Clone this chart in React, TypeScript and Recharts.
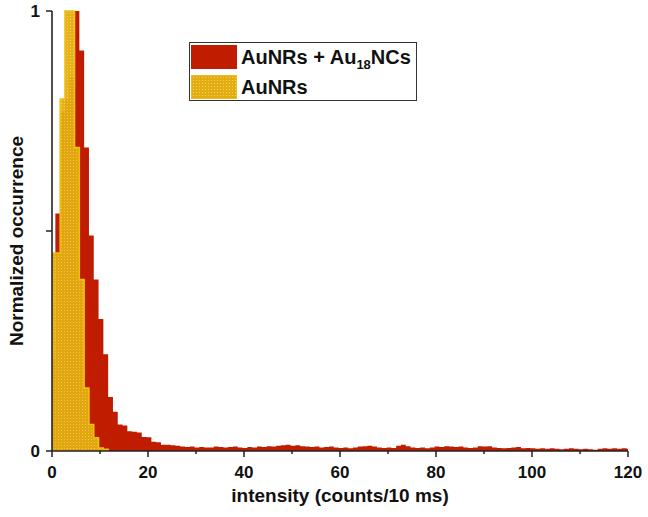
import { ComposedChart, Area, XAxis, YAxis, Legend } from "recharts";

// histogram bins: width 1 count, first bin starts a bit left of 0
const binStart = -0.3;
const binWidth = 1;

// AuNRs + Au18NCs, normalized occurrence per bin (0..120)
const combinedCounts = [
  0.21, 0.54, 0.77, 0.8, 0.85, 1.0, 0.91, 0.69, 0.49, 0.39,
  0.3, 0.22, 0.123, 0.089, 0.06, 0.058, 0.045, 0.044, 0.042, 0.032,
  0.031, 0.021, 0.02, 0.014, 0.014, 0.013, 0.012, 0.01, 0.009, 0.01,
  0.008, 0.009, 0.008, 0.008, 0.01, 0.009, 0.008, 0.009, 0.01, 0.008,
  0.007, 0.009, 0.008, 0.01, 0.009, 0.011, 0.01, 0.012, 0.013, 0.014,
  0.012, 0.013, 0.011, 0.01, 0.009, 0.01, 0.008, 0.009, 0.01, 0.008,
  0.007, 0.008, 0.006, 0.008, 0.01, 0.011, 0.012, 0.01, 0.008, 0.007,
  0.008, 0.007, 0.012, 0.014, 0.011, 0.008, 0.007, 0.008, 0.006, 0.008,
  0.01, 0.009, 0.011, 0.01, 0.009, 0.01, 0.008, 0.007, 0.008, 0.011,
  0.01, 0.011, 0.008, 0.007, 0.006, 0.007, 0.008, 0.009, 0.006, 0.007,
  0.006, 0.005, 0.006, 0.005, 0.006, 0.005, 0.004, 0.005, 0.006, 0.005,
  0.004, 0.005, 0.004, 0.003, 0.005, 0.006, 0.005, 0.006, 0.005, 0.006,
  0.005,
];

// AuNRs only
const aunrCounts = [0.45, 0.45, 0.8, 1.0, 1.0, 0.69, 0.39, 0.143, 0.06, 0.03, 0.007, 0.004, 0];

const xTicks = [0, 10, 20, 30, 40, 50, 60, 70, 80, 90, 100, 110, 120];
const yTicks = [0, 0.5, 1];
const yTickLabels: Record<string, string> = { "0": "0", "1": "1" };

const RED = "#c01d00";
const FONT = "'Liberation Sans', Arial, sans-serif";

const data = combinedCounts.map((v, i) => ({
  x: binStart + i * binWidth,
  red: v,
  yellow: i < aunrCounts.length ? aunrCounts[i] : null,
}));
data.push({
  x: binStart + combinedCounts.length * binWidth,
  red: combinedCounts[combinedCounts.length - 1],
  yellow: null,
});

function XTick(props: any) {
  const { x, y, payload } = props;
  const major = payload.value % 20 === 0;
  return (
    <g>
      <line x1={x} x2={x} y1={y} y2={y + (major ? 6 : 3)} stroke="#222" strokeWidth={1.5} />
      {major && (
        <text x={x} y={y + 27} textAnchor="middle" fontSize={17} fontWeight="bold" fontFamily={FONT} fill="#111">
          {payload.value}
        </text>
      )}
    </g>
  );
}

function YTick(props: any) {
  const { x, y, payload } = props;
  const label = yTickLabels[String(payload.value)];
  return (
    <g>
      <line x1={x - 6} x2={x} y1={y} y2={y} stroke="#222" strokeWidth={1.5} />
      {label && (
        <text x={x - 12} y={y} dy={6} textAnchor="end" fontSize={17} fontWeight="bold" fontFamily={FONT} fill="#111">
          {label}
        </text>
      )}
    </g>
  );
}

function LegendBox() {
  const swatch = { position: "absolute" as const, left: 1, width: 46, height: 24 };
  const text = {
    position: "absolute" as const,
    left: 51,
    fontSize: 20,
    fontWeight: 700,
    lineHeight: "24px",
    color: "#111",
    whiteSpace: "nowrap" as const,
  };
  return (
    <div
      style={{
        position: "relative",
        width: 228,
        height: 59,
        boxSizing: "border-box",
        border: "1.5px solid #333",
        background: "#fff",
        fontFamily: FONT,
      }}
    >
      <div style={{ ...swatch, top: 2, background: RED }} />
      <div style={{ ...text, top: 2 }}>
        AuNRs + Au
        <span style={{ fontSize: 13, verticalAlign: "-5px" }}>18</span>
        NCs
      </div>
      <div
        style={{
          ...swatch,
          top: 32,
          boxSizing: "border-box",
          border: "1.5px solid #eebc1c",
          backgroundColor: "#e3ad12",
          backgroundImage: "radial-gradient(#f4d465 0.7px, transparent 0.9px)",
          backgroundSize: "3px 3px",
        }}
      />
      <div style={{ ...text, top: 32 }}>AuNRs</div>
    </div>
  );
}

export default function App() {
  return (
    <div style={{ position: "absolute", left: 0, top: 0, background: "#fff" }}>
      <ComposedChart
        width={648}
        height={517}
        data={data}
        margin={{ top: 11, right: 20, bottom: 10, left: 0 }}
      >
        <defs>
          <pattern id="dots" width="3" height="3" patternUnits="userSpaceOnUse">
            <rect width="3" height="3" fill="#e4ae10" />
            <rect x="1" y="1" width="1" height="1" fill="#f3d05a" />
          </pattern>
        </defs>
        <Area
          type="stepAfter"
          dataKey="red"
          fill={RED}
          fillOpacity={1}
          stroke="none"
          isAnimationActive={false}
          dot={false}
          activeDot={false}
        />
        <Area
          type="stepAfter"
          dataKey="yellow"
          fill="url(#dots)"
          fillOpacity={0.95}
          stroke="#f0c010"
          strokeWidth={1.5}
          isAnimationActive={false}
          dot={false}
          activeDot={false}
        />
        <XAxis
          dataKey="x"
          type="number"
          domain={[0, 120]}
          allowDataOverflow
          ticks={xTicks}
          interval={0}
          height={56}
          tickSize={0}
          tickMargin={0}
          tick={<XTick />}
          axisLine={{ stroke: "#222", strokeWidth: 1.6 }}
          tickLine={false}
          label={{
            content: () => (
              <text x={340} y={502} textAnchor="middle" fontSize={19} fontWeight="bold" fontFamily={FONT} fill="#111">
                intensity (counts/10 ms)
              </text>
            ),
          }}
        />
        <YAxis
          type="number"
          domain={[0, 1]}
          ticks={yTicks}
          interval={0}
          width={52}
          tickSize={0}
          tickMargin={0}
          tick={<YTick />}
          axisLine={{ stroke: "#222", strokeWidth: 1.6 }}
          tickLine={false}
          label={{
            content: () => (
              <text
                x={16}
                y={241}
                transform="rotate(-90 16 241)"
                textAnchor="middle"
                dominantBaseline="central"
                fontSize={19}
                fontWeight="bold"
                fontFamily={FONT}
                fill="#111"
              >
                Normalized occurrence
              </text>
            ),
          }}
        />
        <Legend
          layout="vertical"
          align="center"
          verticalAlign="middle"
          content={() => <LegendBox />}
          wrapperStyle={{ left: 189, top: 42, width: 228 }}
        />
      </ComposedChart>
    </div>
  );
}
